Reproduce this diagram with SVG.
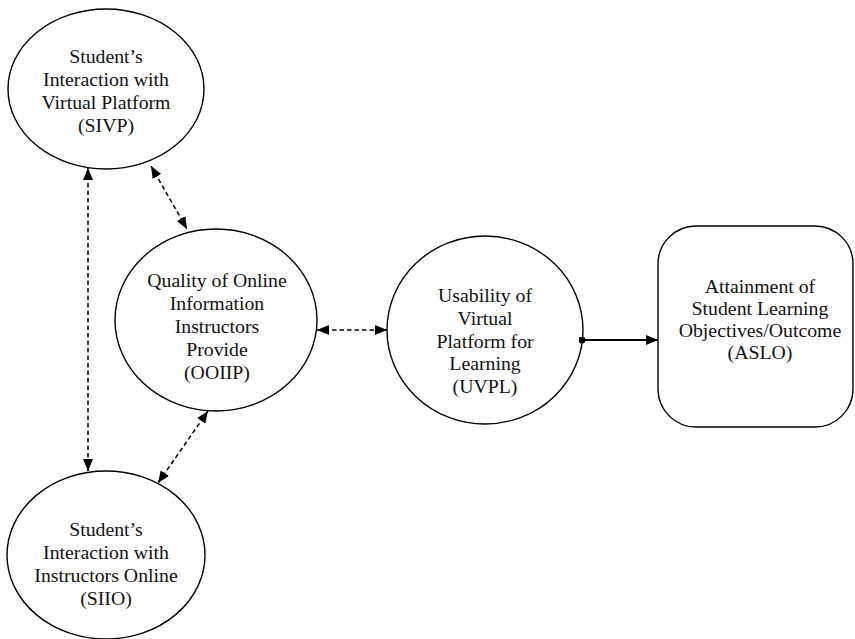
<svg xmlns="http://www.w3.org/2000/svg" width="855" height="639" viewBox="0 0 855 639">
<style>
.shape{fill:#fff;stroke:#000;stroke-width:1.4}
.t{font-family:"Liberation Serif","Times New Roman",serif;font-size:19.8px;fill:#111;text-anchor:middle}
.dash{stroke:#000;stroke-width:1.5;stroke-dasharray:4.5,3;fill:none}
.solid{stroke:#000;stroke-width:2;fill:none}
</style>
<defs>
<marker id="ah" viewBox="0 0 12 10" refX="12" refY="5" markerWidth="12" markerHeight="10" markerUnits="userSpaceOnUse" orient="auto-start-reverse">
<path d="M0,0 L12,5 L0,10 z" fill="#000"/>
</marker>
<marker id="dot" viewBox="0 0 8 8" refX="4" refY="4" markerWidth="7" markerHeight="7" markerUnits="userSpaceOnUse">
<circle cx="4" cy="4" r="4" fill="#000"/>
</marker>
</defs>
<rect width="855" height="639" fill="#fff"/>
<g id="SIVP">
<ellipse class="shape" cx="106" cy="89" rx="98" ry="80"/>
<text class="t" x="106" y="63">Student’s</text>
<text class="t" x="106" y="86">Interaction with</text>
<text class="t" x="106" y="109">Virtual Platform</text>
<text class="t" x="106" y="132">(SIVP)</text>
</g>
<g id="OOIIP">
<ellipse class="shape" cx="216" cy="320" rx="101" ry="91"/>
<text class="t" x="217" y="287">Quality of Online</text>
<text class="t" x="217" y="310">Information</text>
<text class="t" x="217" y="333">Instructors</text>
<text class="t" x="217" y="356">Provide</text>
<text class="t" x="217" y="379">(OOIIP)</text>
</g>
<g id="UVPL">
<ellipse class="shape" cx="485" cy="330" rx="98" ry="94"/>
<text class="t" x="485" y="302">Usability of</text>
<text class="t" x="485" y="325">Virtual</text>
<text class="t" x="485" y="348">Platform for</text>
<text class="t" x="485" y="370">Learning</text>
<text class="t" x="485" y="393">(UVPL)</text>
</g>
<g id="ASLO">
<rect class="shape" x="658" y="226" width="195" height="201" rx="38" ry="38"/>
<text class="t" x="760" y="293">Attainment of</text>
<text class="t" x="760" y="315">Student Learning</text>
<text class="t" x="760" y="337">Objectives/Outcome</text>
<text class="t" x="760" y="359">(ASLO)</text>
</g>
<g id="SIIO">
<ellipse class="shape" cx="106" cy="555" rx="99" ry="84"/>
<text class="t" x="106" y="536">Student’s</text>
<text class="t" x="106" y="559">Interaction with</text>
<text class="t" x="106" y="582">Instructors Online</text>
<text class="t" x="106" y="605">(SIIO)</text>
</g>
<g id="connectors">
<line class="dash" x1="88" y1="168" x2="88" y2="471" marker-start="url(#ah)" marker-end="url(#ah)"/>
<line class="dash" x1="151" y1="166" x2="187" y2="229" marker-start="url(#ah)" marker-end="url(#ah)"/>
<line class="dash" x1="208" y1="411" x2="158" y2="483" marker-start="url(#ah)" marker-end="url(#ah)"/>
<line class="dash" x1="317" y1="330" x2="387" y2="330" marker-start="url(#ah)" marker-end="url(#ah)"/>
<line class="solid" x1="582" y1="340" x2="658" y2="340" marker-start="url(#dot)" marker-end="url(#ah)"/>
</g>
</svg>
